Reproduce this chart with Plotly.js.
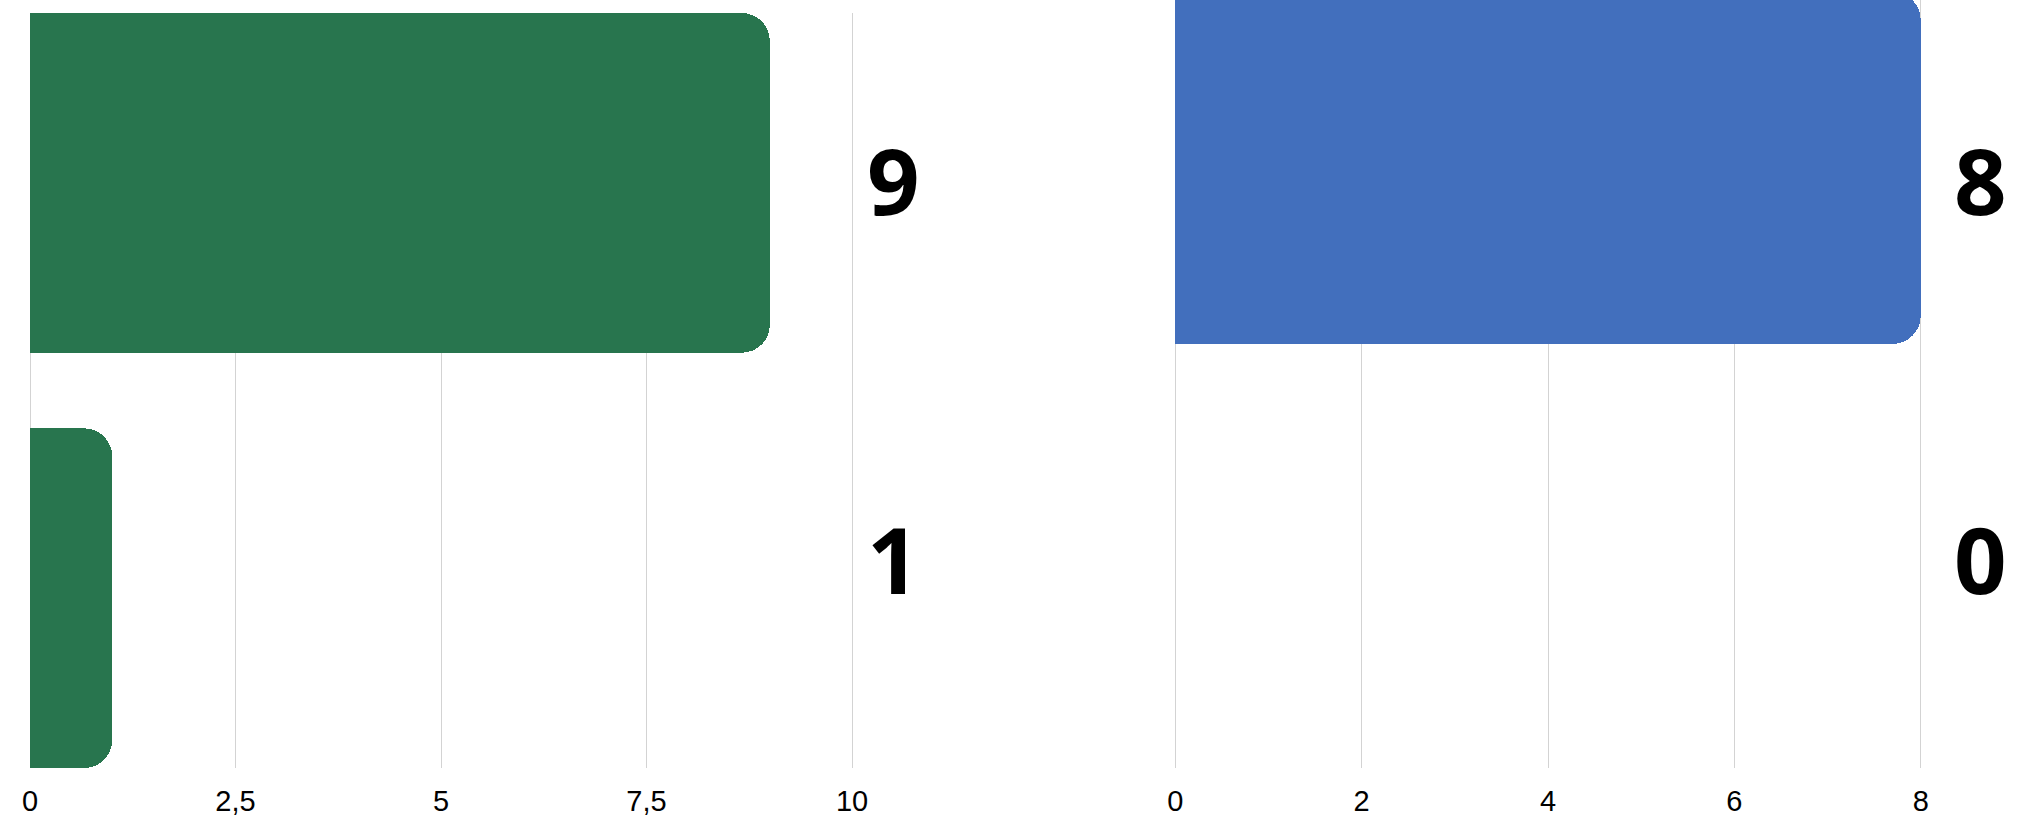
<!DOCTYPE html>
<html>
<head>
<meta charset="utf-8">
<script src="https://cdn.plot.ly/plotly-3.0.1.min.js"></script>
<style>html,body{margin:0;padding:0;background:#fff;}#chart{width:2037px;height:822px;}</style>
</head>
<body>
<div id="chart"></div>
<script>
// Data
const leftCategories = [0, 1];
const leftValues = [9, 1];
const leftTickVals = [0, 2.5, 5, 7.5, 10];
const leftTickText = ['0', '2,5', '5', '7,5', '10'];

const rightCategories = [0, 1];
const rightValues = [8, 0];
const rightTickVals = [0, 2, 4, 6, 8];
const rightTickText = ['0', '2', '4', '6', '8'];

const W = 2037, H = 822;
const green = '#28754e';
const blue = '#426fbd';

const traces = [
  {
    type: 'bar', orientation: 'h',
    x: leftValues, y: leftCategories,
    xaxis: 'x', yaxis: 'y',
    width: 0.818,
    marker: {color: green, cornerradius: 28},
    hoverinfo: 'none', showlegend: false
  },
  {
    type: 'bar', orientation: 'h',
    x: rightValues, y: rightCategories,
    xaxis: 'x2', yaxis: 'y2',
    width: 0.847,
    marker: {color: blue, cornerradius: 28},
    hoverinfo: 'none', showlegend: false
  }
];

const tickFont = {family: 'Liberation Sans, Arial, sans-serif', size: 29, color: '#000'};
const labelFont = {family: 'Open Sans, sans-serif', size: 92, color: '#000', weight: 700};

const xCommon = {
  showgrid: true, gridcolor: '#d3d3d3', gridwidth: 1,
  zeroline: false, showline: false, ticks: '',
  tickfont: tickFont, ticklabelstandoff: 13, fixedrange: true
};
const yCommon = {
  showgrid: false, zeroline: false, showline: false,
  showticklabels: false, ticks: '', fixedrange: true
};

const labelRowsY = [1 - 179 / H, 1 - 558 / H];
const annotations = [];
leftValues.forEach((v, i) => annotations.push({
  xref: 'paper', yref: 'paper', x: 893 / W, y: labelRowsY[i],
  xanchor: 'center', yanchor: 'middle', showarrow: false,
  text: String(v), font: labelFont
}));
rightValues.forEach((v, i) => annotations.push({
  xref: 'paper', yref: 'paper', x: 1980 / W, y: labelRowsY[i],
  xanchor: 'center', yanchor: 'middle', showarrow: false,
  text: String(v), font: labelFont
}));

// small padding so the gridlines at the range ends are drawn
const padL = 3 / 82.2, padR = 3 / 93.2;

const layout = {
  width: W, height: H,
  margin: {l: 0, r: 0, t: 0, b: 0, pad: 0},
  paper_bgcolor: '#fff', plot_bgcolor: '#fff',
  separators: ', ',
  bargap: 0,
  xaxis: Object.assign({}, xCommon, {
    domain: [27 / W, 855 / W], range: [-padL, 10 + padL],
    tickvals: leftTickVals, ticktext: leftTickText, anchor: 'y'
  }),
  yaxis: Object.assign({}, yCommon, {
    domain: [(H - 768) / H, (H - 13) / H], range: [1.409, -0.409], anchor: 'x'
  }),
  xaxis2: Object.assign({}, xCommon, {
    domain: [1172.3 / W, 1923.7 / W], range: [-padR, 8 + padR],
    tickvals: rightTickVals, ticktext: rightTickText, anchor: 'y2'
  }),
  yaxis2: Object.assign({}, yCommon, {
    domain: [(H - 768) / H, 1], range: [1.444, -0.404], anchor: 'x2'
  }),
  annotations: annotations
};

Plotly.newPlot('chart', traces, layout, {displayModeBar: false, staticPlot: true});
</script>
</body>
</html>
